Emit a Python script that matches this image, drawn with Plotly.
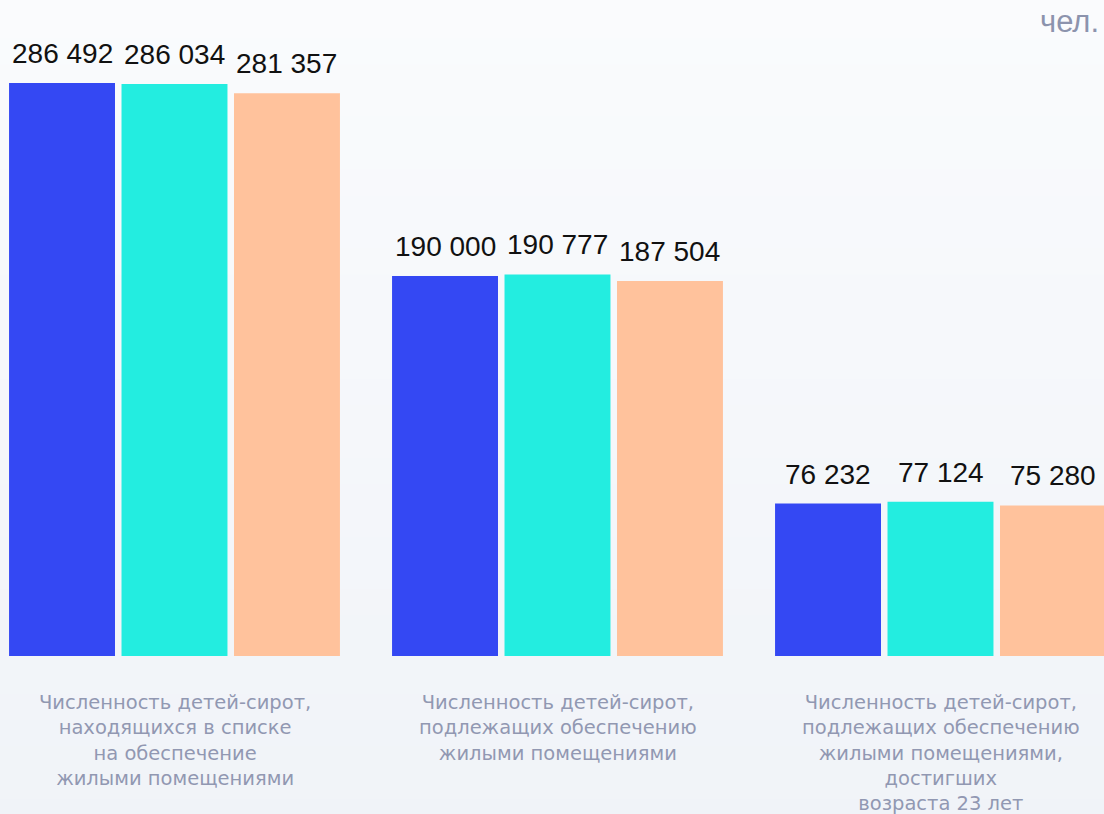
import plotly.graph_objects as go

categories = [
    "Численность детей-сирот,<br>находящихся в списке<br>на обеспечение<br>жилыми помещениями",
    "Численность детей-сирот,<br>подлежащих обеспечению<br>жилыми помещениями",
    "Численность детей-сирот,<br>подлежащих обеспечению<br>жилыми помещениями,<br>достигших<br>возраста 23 лет",
]
series_names = ["Ряд 1", "Ряд 2", "Ряд 3"]
values_1 = [286492, 190000, 76232]
values_2 = [286034, 190777, 77124]
values_3 = [281357, 187504, 75280]
unit_label = "чел."

colors = ["#3448F3", "#23EDE0", "#FFC29C"]
bargap = 0.119
bargroupgap = 0.058


def fmt(v):
    return f"{v:,}".replace(",", " ")


fig = go.Figure()

all_values = [values_1, values_2, values_3]
for name, vals, color in zip(series_names, all_values, colors):
    fig.add_trace(
        go.Bar(
            x=categories,
            y=vals,
            name=name,
            marker=dict(color=color, line=dict(width=0)),
            hoverinfo="skip",
        )
    )

# value labels above each bar, placed at the group offsets
n = len(all_values)
slot = (1 - bargap) / n
for k, vals in enumerate(all_values):
    offset = (k - (n - 1) / 2) * slot
    for i, v in enumerate(vals):
        fig.add_annotation(
            x=i + offset,
            y=v,
            xref="x",
            yref="y",
            text=fmt(v),
            showarrow=False,
            yanchor="bottom",
            yshift=12,
            font=dict(family="Liberation Sans, Arial", size=28, color="#111111"),
        )

# category captions under the bars
for i, cat in enumerate(categories):
    fig.add_annotation(
        x=i,
        y=0,
        xref="x",
        yref="paper",
        text=cat,
        showarrow=False,
        yanchor="top",
        yshift=-33,
        align="center",
        font=dict(family="DejaVu Sans", size=19.5, color="#9198B2"),
    )

fig.add_annotation(
    x=1,
    y=1,
    xref="paper",
    yref="paper",
    text=unit_label,
    showarrow=False,
    xanchor="right",
    yanchor="top",
    xshift=-3,
    yshift=-2,
    font=dict(family="Liberation Sans, Arial", size=31, color="#8C93AD"),
)

# soft vertical gradient background
bands = 40
top_rgb = (252, 253, 254)
bot_rgb = (240, 243, 248)
shapes = []
for b in range(bands):
    t = b / (bands - 1)
    r = round(top_rgb[0] + (bot_rgb[0] - top_rgb[0]) * t)
    g = round(top_rgb[1] + (bot_rgb[1] - top_rgb[1]) * t)
    bl = round(top_rgb[2] + (bot_rgb[2] - top_rgb[2]) * t)
    shapes.append(
        dict(
            type="rect",
            xref="paper",
            yref="paper",
            x0=-0.1,
            x1=1.1,
            y0=1.3 - (b + 1) * 1.6 / bands,
            y1=1.3 - b * 1.6 / bands + 0.002,
            fillcolor=f"rgb({r},{g},{bl})",
            line=dict(width=0),
            layer="below",
        )
    )

fig.update_layout(
    width=1104,
    height=814,
    barmode="group",
    bargap=bargap,
    bargroupgap=bargroupgap,
    showlegend=False,
    paper_bgcolor="#F7F8FB",
    plot_bgcolor="rgba(0,0,0,0)",
    margin=dict(l=0, r=0, t=0, b=158),
    shapes=shapes,
)

fig.update_xaxes(
    range=[-0.4556, 2.4269],
    showticklabels=False,
    showgrid=False,
    zeroline=False,
    showline=False,
    fixedrange=True,
)
fig.update_yaxes(
    range=[0, 328000],
    showticklabels=False,
    showgrid=False,
    zeroline=False,
    showline=False,
    fixedrange=True,
)

fig.write_html(
    "out.html",
    config={"displayModeBar": False},
    post_script="document.body.style.margin='0';document.body.style.overflow='hidden';",
)
